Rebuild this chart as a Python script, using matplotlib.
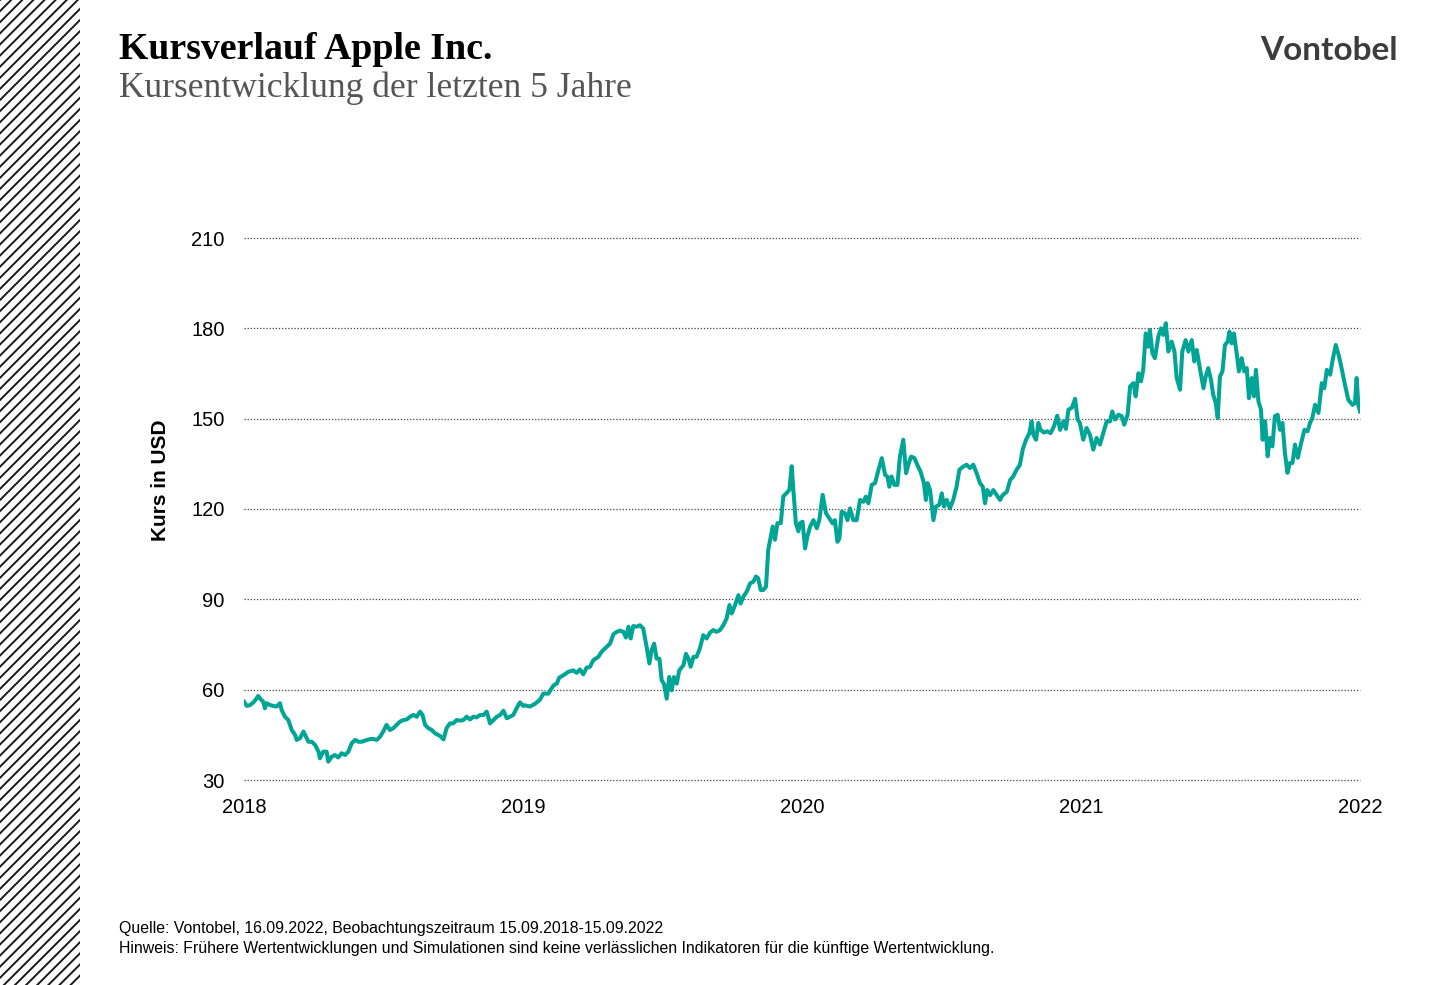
import matplotlib.pyplot as plt
from matplotlib.patches import Rectangle

# Apple Kursverlauf (decimal year, USD)
jahr = [
    2018.000, 2018.010, 2018.022, 2018.034, 2018.045, 2018.051, 2018.060, 2018.069, 2018.075, 2018.081,
    2018.093, 2018.105, 2018.117, 2018.129, 2018.135, 2018.147, 2018.159, 2018.165, 2018.171, 2018.183,
    2018.189, 2018.201, 2018.213, 2018.219, 2018.231, 2018.243, 2018.255, 2018.267, 2018.272, 2018.284,
    2018.296, 2018.302, 2018.314, 2018.326, 2018.338, 2018.350, 2018.362, 2018.374, 2018.386, 2018.398,
    2018.410, 2018.422, 2018.434, 2018.452, 2018.464, 2018.476, 2018.488, 2018.499, 2018.511, 2018.523,
    2018.535, 2018.547, 2018.559, 2018.571, 2018.583, 2018.595, 2018.607, 2018.619, 2018.631, 2018.640,
    2018.649, 2018.661, 2018.673, 2018.685, 2018.703, 2018.715, 2018.726, 2018.738, 2018.750, 2018.762,
    2018.774, 2018.786, 2018.798, 2018.810, 2018.822, 2018.834, 2018.846, 2018.858, 2018.870, 2018.882,
    2018.894, 2018.906, 2018.918, 2018.930, 2018.942, 2018.953, 2018.965, 2018.977, 2018.989, 2019.001,
    2019.007, 2019.025, 2019.043, 2019.061, 2019.073, 2019.091, 2019.109, 2019.121, 2019.130, 2019.145,
    2019.162, 2019.180, 2019.192, 2019.204, 2019.216, 2019.228, 2019.240, 2019.252, 2019.270, 2019.282,
    2019.300, 2019.312, 2019.324, 2019.336, 2019.348, 2019.360, 2019.369, 2019.378, 2019.386, 2019.395,
    2019.407, 2019.419, 2019.431, 2019.443, 2019.453, 2019.461, 2019.470, 2019.479, 2019.489, 2019.497,
    2019.505, 2019.515, 2019.524, 2019.533, 2019.541, 2019.551, 2019.560, 2019.575, 2019.584, 2019.593,
    2019.601, 2019.611, 2019.622, 2019.634, 2019.646, 2019.658, 2019.670, 2019.682, 2019.694, 2019.706,
    2019.718, 2019.730, 2019.740, 2019.748, 2019.760, 2019.772, 2019.780, 2019.790, 2019.802, 2019.814,
    2019.826, 2019.835, 2019.843, 2019.852, 2019.861, 2019.871, 2019.879, 2019.888, 2019.895, 2019.903,
    2019.912, 2019.924, 2019.933, 2019.945, 2019.955, 2019.963, 2019.969, 2019.978, 2019.987, 2019.993,
    2020.002, 2020.011, 2020.019, 2020.029, 2020.041, 2020.053, 2020.062, 2020.074, 2020.086, 2020.098,
    2020.110, 2020.118, 2020.127, 2020.134, 2020.142, 2020.154, 2020.163, 2020.172, 2020.184, 2020.196,
    2020.208, 2020.220, 2020.229, 2020.238, 2020.250, 2020.262, 2020.274, 2020.286, 2020.298, 2020.306,
    2020.313, 2020.321, 2020.331, 2020.342, 2020.351, 2020.363, 2020.373, 2020.381, 2020.391, 2020.403,
    2020.413, 2020.425, 2020.437, 2020.444, 2020.450, 2020.459, 2020.471, 2020.480, 2020.492, 2020.501,
    2020.509, 2020.519, 2020.530, 2020.542, 2020.554, 2020.564, 2020.578, 2020.590, 2020.602, 2020.614,
    2020.626, 2020.638, 2020.648, 2020.656, 2020.664, 2020.674, 2020.686, 2020.698, 2020.710, 2020.719,
    2020.734, 2020.746, 2020.757, 2020.769, 2020.781, 2020.791, 2020.803, 2020.815, 2020.823, 2020.829,
    2020.839, 2020.847, 2020.855, 2020.867, 2020.879, 2020.891, 2020.903, 2020.915, 2020.925, 2020.937,
    2020.946, 2020.955, 2020.967, 2020.979, 2020.988, 2020.996, 2021.008, 2021.020, 2021.032, 2021.044,
    2021.056, 2021.068, 2021.080, 2021.092, 2021.104, 2021.112, 2021.122, 2021.134, 2021.146, 2021.155,
    2021.167, 2021.176, 2021.188, 2021.196, 2021.206, 2021.215, 2021.223, 2021.232, 2021.241, 2021.247,
    2021.256, 2021.265, 2021.277, 2021.287, 2021.295, 2021.304, 2021.313, 2021.325, 2021.335, 2021.343,
    2021.355, 2021.363, 2021.375, 2021.385, 2021.397, 2021.406, 2021.415, 2021.427, 2021.439, 2021.447,
    2021.456, 2021.466, 2021.474, 2021.483, 2021.490, 2021.498, 2021.507, 2021.516, 2021.526, 2021.532,
    2021.540, 2021.548, 2021.558, 2021.566, 2021.576, 2021.585, 2021.594, 2021.602, 2021.612, 2021.620,
    2021.627, 2021.636, 2021.645, 2021.651, 2021.660, 2021.669, 2021.677, 2021.686, 2021.695, 2021.705,
    2021.713, 2021.722, 2021.731, 2021.740, 2021.749, 2021.758, 2021.767, 2021.777, 2021.789, 2021.801,
    2021.812, 2021.821, 2021.829, 2021.839, 2021.851, 2021.863, 2021.872, 2021.881, 2021.893, 2021.901,
    2021.913, 2021.925, 2021.934, 2021.946, 2021.958, 2021.973, 2021.982, 2021.988, 2021.994, 2022.000,
]
kurs = [
    56.0, 54.6, 54.9, 55.8, 57.1, 57.9, 56.8, 56.0, 53.8, 55.5,
    54.9, 54.6, 54.4, 55.5, 53.2, 51.0, 49.9, 48.3, 46.6, 45.0,
    43.3, 43.9, 46.1, 45.0, 42.7, 42.7, 41.6, 39.4, 37.2, 39.4,
    39.4, 36.1, 37.7, 38.3, 37.5, 38.9, 38.3, 39.4, 42.2, 43.3,
    42.7, 42.7, 43.1, 43.6, 43.6, 43.3, 44.4, 46.1, 48.3, 46.6,
    47.2, 48.3, 49.4, 49.9, 50.1, 51.0, 51.6, 51.0, 52.7, 51.6,
    48.3, 47.2, 46.6, 45.5, 44.6, 43.5, 47.2, 48.8, 48.8, 49.9,
    49.7, 49.9, 51.0, 50.1, 51.0, 50.8, 51.6, 51.6, 52.7, 48.8,
    49.9, 51.0, 51.6, 53.0, 50.5, 51.0, 51.6, 53.8, 55.8, 54.6,
    54.8, 54.4, 55.3, 56.7, 58.7, 58.7, 61.4, 62.0, 64.0, 64.8,
    65.9, 66.4, 65.6, 66.7, 65.1, 67.3, 67.6, 69.8, 70.9, 72.6,
    74.2, 75.3, 78.4, 79.2, 79.6, 79.2, 77.3, 80.9, 77.0, 81.1,
    80.9, 81.4, 80.3, 74.2, 68.7, 73.1, 75.3, 70.3, 70.3, 63.1,
    62.0, 57.0, 64.2, 59.8, 64.2, 62.0, 66.4, 68.1, 71.9, 70.3,
    67.6, 70.9, 70.9, 73.7, 78.1, 77.0, 78.9, 79.8, 79.2, 79.8,
    81.4, 83.7, 88.1, 85.3, 88.1, 91.4, 88.6, 90.9, 92.6, 95.3,
    95.9, 97.6, 97.0, 93.1, 93.1, 94.2, 106.4, 110.9, 114.2, 109.8,
    115.3, 115.3, 124.2, 125.3, 126.4, 134.2, 126.4, 115.3, 112.6, 115.3,
    115.8, 106.9, 110.8, 114.1, 116.3, 113.6, 116.3, 124.7, 118.6, 116.9,
    115.2, 116.3, 109.1, 110.2, 119.1, 118.6, 116.3, 120.2, 116.3, 116.3,
    123.0, 122.4, 124.1, 121.9, 128.0, 128.6, 133.0, 136.9, 131.3, 130.8,
    127.4, 130.8, 128.0, 128.0, 137.4, 143.0, 131.9, 134.7, 137.4, 136.9,
    134.7, 132.4, 128.6, 123.0, 128.6, 126.3, 116.3, 120.8, 121.4, 125.2,
    120.8, 123.0, 120.2, 123.0, 127.4, 133.0, 134.1, 134.7, 133.6, 134.7,
    131.9, 128.6, 127.4, 121.9, 126.3, 124.6, 126.3, 124.6, 123.0, 124.6,
    125.7, 129.6, 130.8, 133.0, 134.7, 139.7, 143.0, 145.2, 149.1, 144.7,
    143.0, 148.6, 146.3, 145.4, 145.8, 145.2, 147.4, 151.0, 146.3, 149.1,
    146.6, 153.0, 153.6, 156.6, 149.7, 148.6, 143.0, 146.9, 144.7, 139.7,
    143.6, 141.4, 145.3, 149.1, 149.1, 152.4, 149.7, 151.3, 150.8, 148.0,
    151.3, 160.7, 161.8, 157.4, 165.1, 162.4, 166.2, 178.3, 173.9, 179.4,
    171.7, 170.1, 177.2, 180.0, 177.8, 181.7, 172.3, 175.6, 172.3, 163.5,
    159.6, 172.3, 176.1, 172.3, 176.1, 169.0, 172.8, 166.2, 160.1, 164.0,
    166.8, 162.9, 157.9, 155.2, 150.2, 164.0, 165.7, 174.5, 175.6, 178.9,
    175.0, 178.3, 171.7, 165.7, 170.1, 165.7, 166.8, 156.8, 163.5, 157.4,
    166.2, 155.7, 153.1, 143.0, 149.1, 137.5, 143.6, 140.8, 150.8, 151.3,
    146.3, 148.6, 138.6, 132.0, 135.3, 135.3, 141.4, 137.0, 141.9, 146.3,
    145.8, 148.6, 150.2, 154.6, 151.9, 161.8, 160.1, 166.2, 164.6, 169.0,
    174.5, 170.6, 166.8, 161.3, 156.3, 154.6, 155.2, 163.5, 154.6, 152.4,
]
y_ticks = [30, 60, 90, 120, 150, 180, 210]
x_ticks = [2018, 2019, 2020, 2021, 2022]

plt.rcParams["hatch.linewidth"] = 1.4

fig = plt.figure(figsize=(14.4, 9.85), dpi=100)

# hatched strip on the left edge
strip = fig.add_axes([0, 0, 80 / 1440, 1])
strip.add_patch(Rectangle((0, 0), 1, 1, facecolor="white", edgecolor="#1a1a1a",
                          hatch="///", linewidth=0))
strip.set_xlim(0, 1)
strip.set_ylim(0, 1)
strip.set_axis_off()

ax = fig.add_axes([244 / 1440, 1 - 780 / 985, 1116 / 1440, 542 / 985])
ax.plot(jahr, kurs, color="#00a596", linewidth=2.9, solid_joinstyle="round")
ax.set_xlim(2018, 2022)
ax.set_ylim(30, 210)
ax.set_xticks(x_ticks)
ax.set_yticks(y_ticks)
ax.set_xticklabels([str(t) for t in x_ticks], family="Liberation Sans", fontsize=14.5)
ax.set_yticklabels([str(t) for t in y_ticks], family="Liberation Sans", fontsize=14.5)
ax.tick_params(length=0, pad=14)
ax.tick_params(axis="x", pad=13)
ax.grid(axis="y", color="#444444", linestyle=(0, (1, 1.5)), linewidth=0.9)
for gl in ax.get_ygridlines():
    gl.set_clip_on(False)
ax.set_axisbelow(True)
for s in ax.spines.values():
    s.set_visible(False)
ax.set_ylabel("Kurs in USD", family="Liberation Sans", fontsize=15, fontweight="bold")
ax.yaxis.set_label_coords(-0.066, 0.553)

# header
fig.text(119 / 1440, 1 - 59 / 985, "Kursverlauf Apple Inc.", family="Liberation Serif",
         fontsize=27.3, fontweight="bold", color="black")
fig.text(119 / 1440, 1 - 97 / 985, "Kursentwicklung der letzten 5 Jahre", family="Liberation Serif",
         fontsize=25.6, color="#555555")
fig.text(1398 / 1440, 1 - 60 / 985, "Vontobel", family="Lato", fontsize=24,
         fontweight="bold", color="#3c3c3c", ha="right")

# footnotes
fig.text(119 / 1440, 1 - 933 / 985,
         "Quelle: Vontobel, 16.09.2022, Beobachtungszeitraum 15.09.2018-15.09.2022",
         family="Liberation Sans", fontsize=11.4, color="black")
fig.text(119 / 1440, 1 - 953 / 985,
         "Hinweis: Frühere Wertentwicklungen und Simulationen sind keine verlässlichen "
         "Indikatoren für die künftige Wertentwicklung.",
         family="Liberation Sans", fontsize=11.4, color="black")

fig.savefig("out.png", dpi=100)
